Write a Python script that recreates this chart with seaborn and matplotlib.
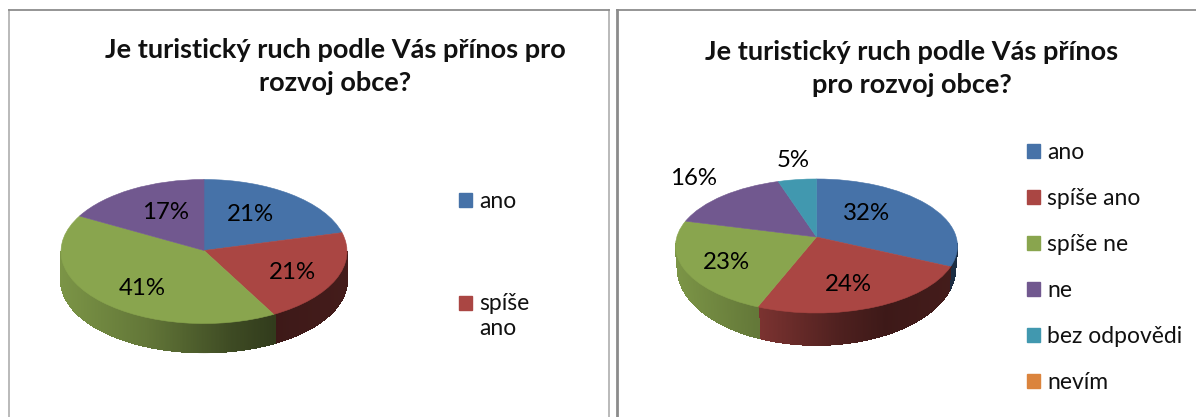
import numpy as np
import matplotlib
matplotlib.use("Agg")
import matplotlib.pyplot as plt
import matplotlib.transforms as mtransforms
from matplotlib.collections import PolyCollection, LineCollection
from matplotlib.patches import Patch
import seaborn as sns

# ---- data ----
title_left = "Je turistický ruch podle Vás přínos pro\nrozvoj obce?"
title_right = "Je turistický ruch podle Vás přínos\npro rozvoj obce?"
categories = ["ano", "spíše ano", "spíše ne", "ne", "bez odpovědi", "nevím"]
values_left = [21, 21, 41, 17]
values_right = [32, 24, 23, 16, 5, 0]
left_legend_labels = ["ano", "spíše\nano"]

# ---- style ----
sns.set_theme(style="white")
plt.rcParams["font.family"] = ["Lato", "DejaVu Sans"]
palette = sns.color_palette(["#4672A8", "#AA4643", "#89A54E", "#71588F", "#4198AF", "#DB843D"])

W, H = 1196, 417
SHADE_U = [0.0, 0.30, 0.60, 0.75, 1.0]
SHADE_F = [0.90, 0.72, 0.45, 0.36, 0.40]


class Perspective(mtransforms.Transform):
    """Tilted-disc projection of the unit pie into panel pixels."""
    input_dims = output_dims = 2
    is_affine = False
    has_inverse = False

    def __init__(self, cx, cy, c, a, b):
        super().__init__()
        self.cx, self.cy, self.c, self.a, self.b = cx, cy, c, a, b

    def transform_non_affine(self, values):
        v = np.asarray(values, dtype=float)
        den = 1 + self.b * v[:, 1]
        return np.column_stack([self.cx + self.c * v[:, 0] / den,
                                self.cy - self.a * v[:, 1] / den])


def pie3d(ax, values, colors, geo, depth, sx, sy):
    wedges, _ = ax.pie(values, colors=colors, startangle=90, counterclock=False,
                       wedgeprops=dict(linewidth=0.4, zorder=3))
    ax.set_aspect("auto")
    proj = Perspective(*geo)
    for w, v in zip(wedges, values):
        w.set_edgecolor(w.get_facecolor())
        w.set_transform(proj + ax.transData)
        if v == 0:
            w.set_linewidth(0)
    xl = geo[0] - geo[2]
    span = 2 * geo[2]
    for w, col in zip(wedges, colors):
        th = np.radians(np.arange(w.theta1, w.theta2 + 0.5, 0.5))
        th = th[np.sin(th) < -0.7 * geo[4]]
        if len(th) < 2:
            continue
        top = proj.transform_non_affine(np.column_stack([np.cos(th), np.sin(th)]))
        bot = np.column_stack([geo[0] + (top[:, 0] - geo[0]) * sx,
                               geo[1] + (top[:, 1] - geo[1]) * sy + depth])
        quads, faces, rims = [], [], []
        for i in range(len(th) - 1):
            quads.append([top[i], top[i + 1], bot[i + 1], bot[i]])
            rims.append([bot[i], bot[i + 1]])
            u = (top[i, 0] - xl) / span
            f = np.interp(u, SHADE_U, SHADE_F)
            faces.append(tuple(np.array(col) * f))
        ax.add_collection(PolyCollection(quads, facecolors=faces, edgecolors=faces,
                                         linewidths=0.6, antialiaseds=False, zorder=2))
        ax.add_collection(LineCollection(rims, colors=faces, linewidths=0.8, zorder=2))
    return wedges


def frame(ax, right=True):
    ax.set_frame_on(True)
    ax.set_xticks([])
    ax.set_yticks([])
    for name, sp in ax.spines.items():
        sp.set_visible(name in ("left", "top") or (name == "right" and right))
        sp.set_color("#b4b4b4")
        sp.set_linewidth(1.3)
    ax.spines["top"].set_color("#8c8c8c")


fig = plt.figure(figsize=(W / 100, H / 100), dpi=100, facecolor="white")

TITLE_FS, PCT_FS, LEG_FS = 19.5, 17.3, 16.5

# left panel
x0, x1, ytop = 9, 609, 10
axL = fig.add_axes([x0 / W, 0, (x1 - x0) / W, (H - ytop) / H])
pie3d(axL, values_left, palette[:4], (204, 250.5, 143, 72, 0.014), 29, 1.0, 1.0)
axL.set_xlim(x0, x1)
axL.set_ylim(H, ytop)
frame(axL)
axL.text(335, 66, title_left, ha="center", va="center", fontsize=TITLE_FS,
         fontweight="bold", color="#111111", linespacing=1.45)
for v, lx, ly in zip(values_left, [250, 292, 142, 166], [214, 272, 288, 212]):
    axL.text(lx, ly, f"{v}%", ha="center", va="center", fontsize=PCT_FS, color="black", zorder=5)
legL = axL.legend(handles=[Patch(color=c) for c in palette[:2]], labels=left_legend_labels,
                  loc="upper left", bbox_to_anchor=(459, 191), bbox_transform=axL.transData,
                  frameon=False, fontsize=LEG_FS, handlelength=0.57, handleheight=0.57,
                  handletextpad=0.3, labelspacing=3.55, borderpad=0, borderaxespad=0,
                  labelcolor="#111111")
h = legL.legend_handles[1]
h.set_y(h.get_y() + 10)

# right panel
x0, x1 = 617, 1197
axR = fig.add_axes([x0 / W, 0, (x1 - x0) / W, (H - ytop) / H])
pie3d(axR, values_right, palette, (816.5, 237, 139.7, 65.8, 0.134), 20.6, 0.985, 1.15)
axR.set_xlim(x0, x1)
axR.set_ylim(H, ytop)
frame(axR, right=False)
axR.spines["left"].set_color("#8c8c8c")
axR.spines["left"].set_linewidth(2)
axR.text(912, 68, title_right, ha="center", va="center", fontsize=TITLE_FS,
         fontweight="bold", color="#111111", linespacing=1.45)
for v, lx, ly in zip(values_right[:5], [867, 848, 726, 694, 793], [213, 284, 262, 178, 160]):
    axR.text(lx, ly, f"{v}%", ha="center", va="center", fontsize=PCT_FS, color="black", zorder=5)
axR.legend(handles=[Patch(color=c) for c in palette], labels=categories,
           loc="upper left", bbox_to_anchor=(1027, 142), bbox_transform=axR.transData,
           frameon=False, fontsize=LEG_FS, handlelength=0.57, handleheight=0.57,
           handletextpad=0.3, labelspacing=1.09, borderpad=0, borderaxespad=0,
           labelcolor="#111111")

fig.savefig("out.png", dpi=100)
